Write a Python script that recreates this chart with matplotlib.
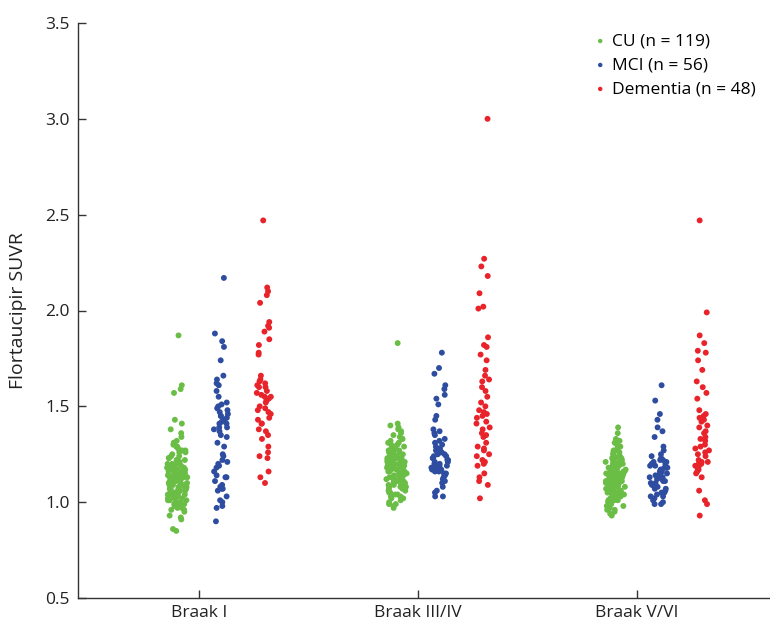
import numpy as np
import matplotlib
matplotlib.use("Agg")
import matplotlib.pyplot as plt

plt.rcParams['font.family'] = ['Open Sans', 'DejaVu Sans']

regions = ['Braak I', 'Braak III/IV', 'Braak V/VI']
groups = ['CU (n = 119)', 'MCI (n = 56)', 'Dementia (n = 48)']
colors = ['#6abd45', '#2e4da0', '#e8232a']

# Braak I
cu_b1 = [1.87, 1.61, 1.59, 1.57, 1.43, 1.41, 1.38, 1.36, 1.34, 1.32, 1.31, 1.31, 1.30,
         1.29, 1.29, 1.28, 1.27, 1.27, 1.26, 1.26, 1.25,
         1.24, 1.24, 1.23, 1.23, 1.22, 1.22, 1.22, 1.21, 1.21, 1.20, 1.20, 1.20,
         1.19, 1.19, 1.19, 1.18, 1.18, 1.18, 1.17, 1.17, 1.17, 1.17, 1.16, 1.16, 1.16, 1.16,
         1.15, 1.15, 1.15, 1.15,
         1.14, 1.14, 1.14, 1.14, 1.13, 1.13, 1.13, 1.13, 1.12, 1.12, 1.12, 1.12,
         1.11, 1.11, 1.11, 1.11, 1.10, 1.10, 1.10, 1.10,
         1.09, 1.09, 1.09, 1.09, 1.08, 1.08, 1.08, 1.08, 1.07, 1.07, 1.07, 1.07,
         1.06, 1.06, 1.06, 1.05, 1.05, 1.05,
         1.04, 1.04, 1.04, 1.03, 1.03, 1.03, 1.02, 1.02, 1.02, 1.01, 1.01, 1.01,
         1.00, 1.00, 1.00,
         0.99, 0.99, 0.98, 0.98, 0.98, 0.97, 0.97, 0.96, 0.96, 0.95,
         0.93, 0.92, 0.91, 0.86, 0.85]
mci_b1 = [2.17, 1.88, 1.84, 1.81, 1.74, 1.66, 1.64, 1.62, 1.61, 1.58, 1.55, 1.52, 1.51,
          1.50, 1.49, 1.48, 1.47, 1.46, 1.45, 1.45, 1.44, 1.43, 1.42, 1.41, 1.41, 1.39,
          1.39, 1.38, 1.37, 1.35, 1.34, 1.31, 1.29, 1.25, 1.24, 1.22, 1.21, 1.20, 1.19,
          1.18, 1.16, 1.14, 1.13, 1.13, 1.11, 1.09, 1.08, 1.07, 1.07, 1.06, 1.03, 1.01,
          1.00, 0.98, 0.97, 0.90]
dem_b1 = [2.47, 2.12, 2.10, 2.08, 2.04, 1.94, 1.92, 1.91, 1.89, 1.85, 1.82, 1.78, 1.77,
          1.66, 1.64, 1.63, 1.62, 1.61, 1.60, 1.60, 1.58, 1.57, 1.56, 1.55, 1.55, 1.54,
          1.53, 1.52, 1.50, 1.49, 1.48, 1.47, 1.46, 1.44, 1.43, 1.41, 1.41, 1.38, 1.37,
          1.35, 1.33, 1.29, 1.26, 1.24, 1.23, 1.16, 1.13, 1.10]

# Braak III/IV
cu_b34 = [1.83, 1.41, 1.40, 1.39, 1.38, 1.37, 1.36, 1.35,
          1.34, 1.33, 1.33, 1.32, 1.31, 1.31, 1.30,
          1.30, 1.29, 1.29, 1.28, 1.28, 1.27, 1.27, 1.27, 1.26, 1.26, 1.25, 1.25,
          1.25, 1.24, 1.24, 1.24, 1.24, 1.23, 1.23, 1.23, 1.23, 1.22, 1.22, 1.22,
          1.22, 1.21, 1.21, 1.21, 1.21, 1.21, 1.20, 1.20, 1.20, 1.20,
          1.20, 1.19, 1.19, 1.19, 1.19, 1.19, 1.18, 1.18, 1.18, 1.18, 1.18, 1.17,
          1.17, 1.17, 1.17, 1.17, 1.16, 1.16, 1.16, 1.16, 1.16, 1.15, 1.15, 1.15,
          1.15, 1.14, 1.14, 1.14, 1.14, 1.13, 1.13, 1.13, 1.13, 1.12, 1.12, 1.12,
          1.12, 1.11, 1.11, 1.11, 1.11, 1.10, 1.10, 1.10,
          1.10, 1.09, 1.09, 1.09, 1.08, 1.08, 1.08, 1.07, 1.07, 1.07, 1.06, 1.06,
          1.05, 1.05,
          1.04, 1.04, 1.03, 1.03, 1.02, 1.02, 1.01, 1.00,
          0.99, 0.99, 0.98, 0.97]
mci_b34 = [1.78, 1.70, 1.67, 1.61, 1.59, 1.56, 1.54, 1.51, 1.45, 1.43,
           1.38, 1.37, 1.36, 1.35, 1.33, 1.32, 1.31, 1.30, 1.29, 1.28,
           1.27, 1.27, 1.26, 1.26, 1.25, 1.25, 1.24, 1.24, 1.23, 1.23,
           1.22, 1.22, 1.21, 1.21, 1.20, 1.20, 1.19, 1.19, 1.18, 1.18,
           1.17, 1.17, 1.16, 1.16, 1.15, 1.15, 1.14, 1.13, 1.12, 1.11,
           1.10, 1.08, 1.06, 1.05, 1.03, 1.03]
dem_b34 = [3.00, 2.27, 2.23, 2.18, 2.09, 2.02, 2.01, 1.86, 1.82, 1.81, 1.77, 1.74,
           1.69, 1.66, 1.64, 1.63, 1.60, 1.58, 1.55, 1.52, 1.50, 1.48, 1.47, 1.46,
           1.44, 1.42, 1.41, 1.39, 1.38, 1.36, 1.35, 1.34, 1.31, 1.29, 1.28, 1.27,
           1.25, 1.24, 1.22, 1.21, 1.20, 1.19, 1.15, 1.13, 1.11, 1.09, 1.02, 1.45]

# Braak V/VI
cu_b56 = [1.39, 1.36, 1.33, 1.32, 1.31, 1.30,
          1.29, 1.29, 1.28, 1.27, 1.27, 1.26, 1.26, 1.25,
          1.24, 1.24, 1.23, 1.23, 1.23, 1.22, 1.22, 1.22, 1.21, 1.21, 1.21, 1.20,
          1.20, 1.20,
          1.19, 1.19, 1.19, 1.19, 1.19, 1.18, 1.18, 1.18, 1.18, 1.17, 1.17, 1.17,
          1.17, 1.17, 1.16, 1.16, 1.16, 1.16, 1.15, 1.15, 1.15, 1.15,
          1.14, 1.14, 1.14, 1.14, 1.14, 1.13, 1.13, 1.13, 1.13, 1.13, 1.12, 1.12,
          1.12, 1.12, 1.12, 1.11, 1.11, 1.11, 1.11, 1.10, 1.10, 1.10, 1.10, 1.10,
          1.09, 1.09, 1.09, 1.09, 1.08, 1.08, 1.08, 1.08, 1.07, 1.07, 1.07, 1.07,
          1.06, 1.06, 1.06, 1.06, 1.05, 1.05, 1.05, 1.05,
          1.04, 1.04, 1.04, 1.03, 1.03, 1.03, 1.02, 1.02, 1.02, 1.01, 1.01, 1.01,
          1.00, 1.00,
          0.99, 0.99, 0.98, 0.98, 0.97, 0.97, 0.96, 0.96,
          0.95, 0.94, 0.93]
mci_b56 = [1.61, 1.53, 1.46, 1.43, 1.39, 1.37, 1.34, 1.29, 1.27, 1.25,
           1.24, 1.23, 1.22, 1.22, 1.21, 1.21, 1.20, 1.20, 1.19, 1.19,
           1.18, 1.18, 1.18, 1.17, 1.17, 1.16, 1.16, 1.15, 1.15, 1.14,
           1.14, 1.13, 1.13, 1.12, 1.12, 1.11, 1.11, 1.10, 1.10, 1.09,
           1.09, 1.08, 1.08, 1.07, 1.07, 1.06, 1.05, 1.05, 1.04, 1.03,
           1.03, 1.02, 1.01, 1.00, 0.99, 0.99]
dem_b56 = [2.47, 1.99, 1.87, 1.83, 1.79, 1.78, 1.74, 1.69, 1.63, 1.60, 1.57, 1.54,
           1.48, 1.46, 1.45, 1.44, 1.43, 1.42, 1.40, 1.39, 1.37, 1.36, 1.34, 1.33,
           1.32, 1.30, 1.29, 1.28, 1.27, 1.26, 1.25, 1.24, 1.22, 1.21, 1.21, 1.20,
           1.20, 1.19, 1.19, 1.18, 1.17, 1.16, 1.15, 1.13, 1.06, 1.01, 0.99, 0.93]

data = [[cu_b1, mci_b1, dem_b1],
        [cu_b34, mci_b34, dem_b34],
        [cu_b56, mci_b56, dem_b56]]

# hue positions relative to the region tick
offsets = [-0.100, 0.098, 0.297]

rng = np.random.default_rng(7)


def spread(vals):
    # jitter width grows a bit with local density
    v = np.asarray(vals)
    dens = np.array([np.sum(np.abs(v - y) < 0.04) for y in v], float)
    amp = np.minimum(0.048, 0.018 + 0.006 * np.sqrt(dens))
    return rng.uniform(-1, 1, len(v)) * amp


fig = plt.figure(figsize=(7.7, 6.23), dpi=100)
ax = fig.add_axes([78/770, 25/623, 692/770, 575/623])

for i, reg in enumerate(regions):
    for j, vals in enumerate(data[i]):
        x = i + offsets[j] + spread(vals)
        ax.scatter(x, vals, s=18, color=colors[j], edgecolors='none',
                   label=groups[j] if i == 0 else None)

ax.set_xlim(-0.553, 2.607)
ax.set_ylim(0.5, 3.5)
ax.set_xticks(range(3))
ax.set_xticklabels(regions)
ax.set_yticks(np.arange(0.5, 3.51, 0.5))
ax.set_yticklabels(['%.1f' % t for t in np.arange(0.5, 3.51, 0.5)])
ax.set_ylabel('Flortaucipir SUVR', fontsize=14, color='#222222')
ax.yaxis.set_label_coords(-0.073, 0.5)

for s in ['top', 'right']:
    ax.spines[s].set_visible(False)
for s in ['left', 'bottom']:
    ax.spines[s].set_linewidth(1.0)
    ax.spines[s].set_color('#333333')
ax.tick_params(direction='in', length=6, width=1.0, color='#333333',
               labelsize=12.5, labelcolor='#222222')
ax.tick_params(axis='y', pad=6)
ax.tick_params(axis='x', pad=5)

ax.legend(loc='upper right', bbox_to_anchor=(0.995, 1.0), frameon=False,
          fontsize=12.5, markerscale=0.75, handletextpad=0.2, labelspacing=0.45,
          handlelength=1.0, borderaxespad=0.2)

plt.savefig('out.png', dpi=100)
